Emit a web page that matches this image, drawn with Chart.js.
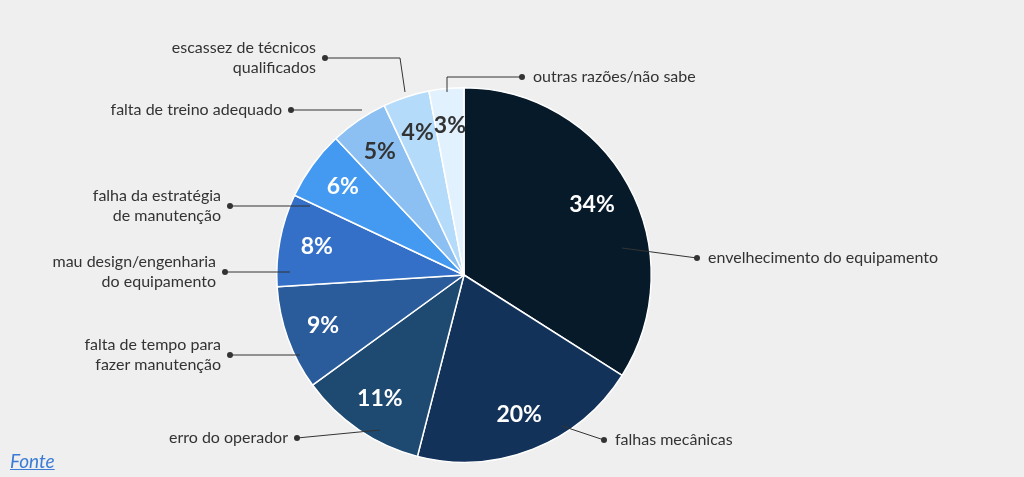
<!DOCTYPE html>
<html>
<head>
<meta charset="utf-8">
<script src="https://cdn.jsdelivr.net/npm/chart.js@4"></script>
<style>
  body { margin: 0; background: #efefef; }
  #wrap { position: relative; width: 1024px; height: 477px; }
  #fonte { position: absolute; left: 10px; top: 449px; font: italic 19px Lato, sans-serif; color: #3a7bd5; text-decoration: underline; }
</style>
</head>
<body>
<div id="wrap">
  <canvas id="pie" width="1024" height="477"></canvas>
  <a id="fonte">Fonte</a>
</div>
<script>
const categories = ['envelhecimento do equipamento', 'falhas mecânicas', 'erro do operador',
    'falta de tempo para|fazer manutenção', 'mau design/engenharia|do equipamento',
    'falha da estratégia|de manutenção', 'falta de treino adequado',
    'escassez de técnicos|qualificados', 'outras razões/não sabe'];
const values = [34, 20, 11, 9, 8, 6, 5, 4, 3];
const colors = ['#071a2a', '#13325a', '#1e4a72', '#2a5c9c', '#3470c8', '#4499f0', '#8cc0f2', '#b5dbfa', '#e1f1fd'];

// label layout: dot position, side, optional elbow point
const labelLayout = [
    { dot: [697, 258], side: 'r', from: [622, 248] },
    { dot: [604, 440], side: 'r', from: [562, 426] },
    { dot: [297, 438], side: 'l', from: [380, 430] },
    { dot: [230, 355], side: 'l', from: [300, 355] },
    { dot: [225, 272], side: 'l', from: [290, 272] },
    { dot: [230, 206], side: 'l', from: [310, 206] },
    { dot: [291, 110], side: 'l', from: [362, 110], elbow: [362, 110] },
    { dot: [325, 58], side: 'l', from: [405, 92], elbow: [400, 58] },
    { dot: [522, 77], side: 'r', from: [447, 92], elbow: [447, 77] }
];

const labelsPlugin = {
    id: 'pieLabels',
    afterDatasetsDraw(chart) {
        const ctx = chart.ctx;
        const arcs = chart.getDatasetMeta(0).data;
        ctx.save();
        arcs.forEach((arc, i) => {
            const mid = (arc.startAngle + arc.endAngle) / 2;
            const r = arc.outerRadius * (i === 0 ? 0.78 : 0.8);
            const x = arc.x + Math.cos(mid) * r;
            const y = arc.y + Math.sin(mid) * r;
            ctx.font = 'bold 23px Lato, sans-serif';
            ctx.fillStyle = i >= 6 ? '#333' : '#fff';
            ctx.textAlign = 'center';
            ctx.textBaseline = 'middle';
            ctx.fillText(values[i] + '%', x, y);

            const l = labelLayout[i];
            ctx.strokeStyle = '#333';
            ctx.lineWidth = 1;
            ctx.beginPath();
            ctx.moveTo(l.from[0], l.from[1]);
            if (l.elbow) ctx.lineTo(l.elbow[0], l.elbow[1]);
            ctx.lineTo(l.dot[0], l.dot[1]);
            ctx.stroke();
            ctx.fillStyle = '#333';
            ctx.beginPath();
            ctx.arc(l.dot[0], l.dot[1], 3, 0, Math.PI * 2);
            ctx.fill();

            const lines = categories[i].split('|');
            ctx.font = '16px Lato, sans-serif';
            ctx.textAlign = l.side === 'r' ? 'left' : 'right';
            const tx = l.side === 'r' ? l.dot[0] + 11 : l.dot[0] - 9;
            const y0 = l.dot[1] - (lines.length - 1) * 10;
            lines.forEach((t, k) => ctx.fillText(t, tx, y0 + k * 20));
        });
        ctx.restore();
    }
};

new Chart(document.getElementById('pie'), {
    type: 'pie',
    data: {
        labels: categories,
        datasets: [{ data: values, backgroundColor: colors, borderColor: '#ffffff', borderWidth: 1.5 }]
    },
    options: {
        responsive: false,
        animation: false,
        devicePixelRatio: 1,
        layout: { padding: { top: 87, bottom: 14, left: 0, right: 96 } },
        plugins: { legend: { display: false }, tooltip: { enabled: false } }
    },
    plugins: [labelsPlugin]
});
</script>
</body>
</html>
